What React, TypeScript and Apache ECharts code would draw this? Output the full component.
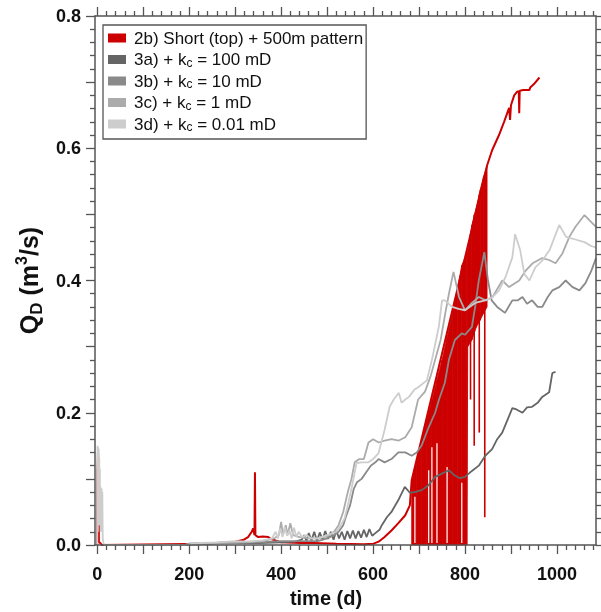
import React, { useEffect, useRef } from "react";
import * as echarts from "echarts";

const FONT = '"Liberation Sans", Arial, Helvetica, sans-serif';
const RED = "#cc0000";

const seriesNames = [
  "2b) Short (top) + 500m pattern",
  "3a) + kc = 100 mD",
  "3b) + kc = 10 mD",
  "3c) + kc = 1 mD",
  "3d) + kc = 0.01 mD",
];
const seriesColors = [RED, "#656565", "#8a8a8a", "#ababab", "#cdcdcd"];

const xLabelValues = [0, 200, 400, 600, 800, 1000];
const xTickValues = [0, 100, 200, 300, 400, 500, 600, 700, 800, 900, 1000];
const yLabelValues = [0, 0.2, 0.4, 0.6, 0.8];

// 2b red line (outside the oscillating band)
const red2b = [
  [0, 0], [0.5, 0.11], [1.5, 0.14], [2.5, 0.125], [3.5, 0.005], [10, 0], [240, 0.002], [280, 0.004],
  [300, 0.005], [319, 0.008], [328, 0.012], [336, 0.02], [339, 0.025], [342, 0.015], [343, 0.11],
  [344, 0.015], [350, 0.012], [360, 0.013], [372, 0.012], [378, 0.009], [400, 0.004], [444, 0.003],
  [472, 0.003], [520, 0.002], [580, 0.001], [601, 0.002], [612, 0.005], [625, 0.012], [640, 0.022],
  [655, 0.033], [670, 0.045], [680, 0.06], [684, 0.098], [848, 0.574], [859, 0.597], [874, 0.62],
  [885, 0.64], [896, 0.661], [898, 0.643], [900, 0.665], [907, 0.68], [914, 0.686], [917, 0.686],
  [918, 0.653], [919, 0.687], [927, 0.688], [940, 0.688], [942, 0.692], [950, 0.697], [962, 0.707],
];

// 2b oscillation band (envelope)
const bandX = [684, 695, 706, 717, 728, 739, 750, 761, 772, 783, 793, 804, 806, 815, 825, 833, 840, 848];
const bandHigh = [0.098, 0.128, 0.159, 0.19, 0.219, 0.25, 0.28, 0.314, 0.348, 0.386, 0.423, 0.44, 0.445, 0.484, 0.512, 0.537, 0.556, 0.574];
const bandLow = [0, 0, 0, 0, 0, 0, 0, 0, 0, 0, 0, 0, 0.3, 0.31, 0.33, 0.34, 0.35, 0.36];
// deep excursions of 2b on the right part of the band: [time, low, high]
const redSpikes = [[812, 0.22, 0.47], [820, 0.15, 0.5], [831, 0.17, 0.53], [843, 0.042, 0.56]];
// gaps inside the band: [time, low, high]
const bandGaps = [[691, 0.003, 0.073], [721, 0.003, 0.113], [728, 0.003, 0.148], [739, 0.003, 0.154], [761, 0.003, 0.118], [793, 0.003, 0.094]];

const s3a = [
  [190, 0], [200, 0.002], [250, 0.003], [300, 0.003], [350, 0.003], [400, 0.004], [430, 0.005], [445, 0.008],
  [450, 0.015], [455, 0.006], [460, 0.018], [466, 0.007], [472, 0.02], [478, 0.006], [484, 0.019], [490, 0.008],
  [496, 0.021], [502, 0.009], [508, 0.02], [514, 0.008], [520, 0.022], [526, 0.01], [532, 0.02], [538, 0.008],
  [544, 0.021], [550, 0.01], [556, 0.022], [562, 0.01], [568, 0.021], [574, 0.011], [580, 0.023], [586, 0.012],
  [592, 0.024], [598, 0.014], [605, 0.018], [614, 0.023], [619, 0.03], [630, 0.042], [640, 0.05], [655, 0.068],
  [669, 0.088], [680, 0.079], [690, 0.08], [706, 0.083], [720, 0.09], [735, 0.103], [750, 0.108], [765, 0.113],
  [778, 0.105], [789, 0.101], [800, 0.103], [815, 0.112], [830, 0.12], [844, 0.135], [859, 0.145], [870, 0.16],
  [881, 0.17], [890, 0.185], [903, 0.207], [912, 0.205], [925, 0.2], [935, 0.208], [946, 0.209], [958, 0.215],
  [968, 0.224], [983, 0.231], [990, 0.26], [997, 0.262],
];

const s3b = [
  [190, 0], [250, 0.002], [300, 0.003], [350, 0.004], [400, 0.006], [450, 0.006], [480, 0.006], [500, 0.01],
  [515, 0.015], [525, 0.02], [535, 0.03], [542, 0.045], [550, 0.06], [558, 0.085], [565, 0.095], [575, 0.1],
  [585, 0.11], [595, 0.12], [605, 0.125], [612, 0.13], [625, 0.125], [640, 0.13], [655, 0.14], [670, 0.14],
  [684, 0.135], [695, 0.14], [706, 0.151], [721, 0.178], [735, 0.2], [743, 0.219], [756, 0.245], [765, 0.28],
  [778, 0.31], [793, 0.32], [800, 0.318], [815, 0.33], [822, 0.36], [830, 0.4], [842, 0.443], [850, 0.4],
  [858, 0.37], [870, 0.36], [887, 0.351], [903, 0.37], [915, 0.37], [925, 0.375], [935, 0.365], [946, 0.37],
  [958, 0.36], [968, 0.36], [980, 0.375], [990, 0.385], [1005, 0.39], [1019, 0.4], [1034, 0.39], [1049, 0.385],
  [1062, 0.396], [1075, 0.415], [1085, 0.434],
];

const s3c = [
  [190, 0], [250, 0.003], [300, 0.004], [360, 0.006], [385, 0.01], [395, 0.015], [400, 0.035], [404, 0.015],
  [410, 0.03], [414, 0.015], [420, 0.033], [426, 0.015], [440, 0.012], [460, 0.01], [480, 0.01], [500, 0.013],
  [515, 0.02], [525, 0.03], [535, 0.05], [545, 0.08], [553, 0.1], [560, 0.125], [570, 0.13], [580, 0.13],
  [590, 0.155], [600, 0.16], [612, 0.155], [625, 0.158], [640, 0.16], [656, 0.158], [670, 0.163], [684, 0.178],
  [698, 0.22], [713, 0.232], [725, 0.255], [737, 0.285], [747, 0.31], [757, 0.35], [765, 0.38], [775, 0.413],
  [787, 0.375], [800, 0.355], [815, 0.366], [830, 0.375], [845, 0.37], [860, 0.375], [881, 0.4], [896, 0.39],
  [918, 0.4], [932, 0.415], [947, 0.426], [968, 0.434], [983, 0.431], [997, 0.426], [1012, 0.441], [1027, 0.466],
  [1040, 0.481], [1060, 0.499], [1071, 0.491], [1085, 0.481],
];

const s3d = [
  [0, 0], [0.5, 0.15], [1.2, 0.02], [1.8, 0.148], [2.5, 0.03], [3.1, 0.145], [3.7, 0.04], [4.3, 0.13],
  [5, 0.05], [5.6, 0.115], [6.2, 0.03], [6.9, 0.088], [7.5, 0.02], [8.2, 0.086], [8.9, 0.03], [9.6, 0.085],
  [10.3, 0.02], [11, 0.08], [11.8, 0.01], [13, 0.004], [15, 0], [190, 0], [220, 0.003], [260, 0.004],
  [300, 0.006], [330, 0.005], [360, 0.007], [380, 0.01], [388, 0.02], [393, 0.01], [398, 0.025], [403, 0.012],
  [408, 0.027], [413, 0.014], [418, 0.022], [423, 0.01], [428, 0.026], [433, 0.012], [438, 0.02], [445, 0.012],
  [455, 0.015], [465, 0.01], [480, 0.01], [500, 0.015], [520, 0.02], [530, 0.03], [538, 0.04], [545, 0.06],
  [553, 0.085], [564, 0.124], [575, 0.125], [590, 0.125], [600, 0.13], [612, 0.139], [625, 0.174], [636, 0.209],
  [645, 0.22], [656, 0.23], [662, 0.215], [670, 0.22], [678, 0.224], [690, 0.235], [699, 0.239], [717, 0.249],
  [728, 0.28], [743, 0.33], [750, 0.37], [756, 0.37], [772, 0.36], [786, 0.357], [800, 0.355], [822, 0.366],
  [844, 0.37], [860, 0.375], [874, 0.385], [888, 0.405], [903, 0.435], [909, 0.47], [920, 0.446], [929, 0.41],
  [940, 0.4], [953, 0.42], [968, 0.43], [984, 0.446], [1005, 0.484], [1020, 0.466], [1040, 0.462], [1060, 0.458],
  [1075, 0.452], [1085, 0.45],
];

const xMinorValues: number[] = [];
for (let v = 20; v < 1085; v += 20) if (v % 100 !== 0) xMinorValues.push(v);

const X_MIN = -5;
const X_MAX = 1085;

export default function App() {
  const ref = useRef<HTMLDivElement>(null);
  useEffect(() => {
    const chart = echarts.init(ref.current!, null, { renderer: "svg" });
    const axisLineStyle = { color: "#555", width: 1.5 };
    const tickStyle = { color: "#555", width: 1.3 };
    const labelStyle = { color: "#111", fontFamily: FONT, fontWeight: "bold" as const, fontSize: 18 };

    const mkX = (pos: string, minor: boolean, labels: boolean) => ({
      type: "value",
      position: pos,
      min: X_MIN,
      max: X_MAX,
      z: 5,
      axisLine: { show: !minor, onZero: false, lineStyle: axisLineStyle },
      axisTick: { show: true, customValues: minor ? xMinorValues : xTickValues, length: minor ? 5 : 9, lineStyle: tickStyle },
      axisLabel: labels
        ? { show: true, customValues: xLabelValues, formatter: (v: number) => String(v), margin: 20, ...labelStyle }
        : { show: false },
      splitLine: { show: false },
    });
    const mkY = (pos: string, labels: boolean) => ({
      type: "value",
      position: pos,
      min: 0,
      max: 0.8,
      interval: 0.1,
      z: 5,
      axisLine: { show: true, onZero: false, lineStyle: axisLineStyle },
      axisTick: { show: true, length: 9, lineStyle: tickStyle },
      minorTick: { show: true, splitNumber: 5, length: 5, lineStyle: tickStyle },
      axisLabel: labels
        ? { show: true, customValues: yLabelValues, formatter: (v: number) => v.toFixed(1), margin: 14, ...labelStyle }
        : { show: false },
      splitLine: { show: false },
      ...(labels
        ? {
            name: "{b|Q}{sub|D}{b| (m}{sup|3}{b|/s)}",
            nameLocation: "middle",
            nameGap: 42,
            nameTextStyle: {
              color: "#111",
              fontFamily: FONT,
              fontWeight: "bold",
              rich: {
                b: { fontSize: 25, lineHeight: 32, fontWeight: "bold", fontFamily: FONT, color: "#111" },
                sub: { fontSize: 17, lineHeight: 17, verticalAlign: "bottom", fontWeight: "bold", fontFamily: FONT, color: "#111" },
                sup: { fontSize: 16, lineHeight: 16, verticalAlign: "top", fontWeight: "bold", fontFamily: FONT, color: "#111" },
              },
            },
          }
        : {}),
    });

    const vline = (color: string, width: number) => (params: any, api: any) => {
      const p1 = api.coord([api.value(0), api.value(1)]);
      const p2 = api.coord([api.value(0), api.value(2)]);
      return {
        type: "line",
        shape: { x1: p1[0], y1: p1[1], x2: p2[0], y2: p2[1] },
        style: { stroke: color, lineWidth: width },
      };
    };

    const lineSeries = (name: string, data: number[][], color: string, width: number) => ({
      type: "line",
      name,
      data,
      showSymbol: false,
      symbol: "none",
      color,
      itemStyle: { color },
      lineStyle: { color, width },
      z: 3,
    });

    const legendFmt = (name: string) => {
      const i = name.indexOf("kc");
      if (i < 0) return `{n|${name}}`;
      return `{n|${name.slice(0, i)}k}{s|c}{n|${name.slice(i + 2)}}`;
    };

    const option: any = {
      animation: false,
      grid: { left: 95, right: 5, top: 16, bottom: 67, containLabel: false, outerBoundsMode: "none" },
      xAxis: [mkX("bottom", false, true), mkX("bottom", true, false), mkX("top", false, false), mkX("top", true, false)],
      yAxis: [mkY("left", true), mkY("right", false)],
      legend: {
        data: seriesNames,
        orient: "vertical",
        left: 103,
        top: 25,
        padding: [4, 3, 6, 5],
        itemGap: 3.5,
        itemWidth: 18,
        itemHeight: 9,
        icon: "rect",
        selectedMode: false,
        backgroundColor: "#fff",
        borderColor: "#555",
        borderWidth: 1.3,
        borderRadius: 0,
        formatter: legendFmt,
        textStyle: {
          color: "#111",
          fontFamily: FONT,
          fontSize: 17,
          lineHeight: 18,
          padding: [0, 0, 0, 3],
          rich: {
            n: { fontSize: 17, lineHeight: 18, fontFamily: FONT, color: "#111" },
            s: { fontSize: 12, lineHeight: 12, verticalAlign: "bottom", fontFamily: FONT, color: "#111" },
          },
        },
      },
      graphic: [
        {
          type: "text",
          x: 326,
          y: 598,
          style: { text: "time (d)", fontFamily: FONT, fontWeight: "bold", fontSize: 20, fill: "#111", align: "center", verticalAlign: "middle" },
        },
      ],
      series: [
        {
          type: "custom",
          name: "band",
          data: bandX.map((x, i) => [x, bandLow[i], bandHigh[i]]),
          encode: { x: 0, y: [1, 2] },
          z: 2,
          renderItem: (params: any, api: any) => {
            const i = params.dataIndex;
            if (i >= bandX.length - 1) return { type: "group", children: [] };
            const pts = [
              api.coord([bandX[i], bandHigh[i]]),
              api.coord([bandX[i + 1], bandHigh[i + 1]]),
              api.coord([bandX[i + 1], bandLow[i + 1]]),
              api.coord([bandX[i], bandLow[i]]),
            ];
            return { type: "polygon", shape: { points: pts }, style: { fill: RED, stroke: RED, lineWidth: 0.8 } };
          },
        },
        {
          type: "custom",
          name: "gaps",
          data: bandGaps,
          encode: { x: 0, y: [1, 2] },
          z: 2,
          renderItem: vline("#ffffff", 1.2),
        },
        {
          type: "custom",
          name: "spikes",
          data: redSpikes,
          encode: { x: 0, y: [1, 2] },
          z: 2,
          renderItem: vline(RED, 1.6),
        },
        lineSeries(seriesNames[0], red2b, seriesColors[0], 2),
        lineSeries(seriesNames[1], s3a, seriesColors[1], 1.8),
        lineSeries(seriesNames[2], s3b, seriesColors[2], 1.8),
        lineSeries(seriesNames[3], s3c, seriesColors[3], 1.8),
        lineSeries(seriesNames[4], s3d, seriesColors[4], 1.8),
      ],
    };
    chart.setOption(option);
    return () => chart.dispose();
  }, []);
  return <div ref={ref} style={{ position: "fixed", left: 0, top: 0, width: 601, height: 612 }} />;
}
